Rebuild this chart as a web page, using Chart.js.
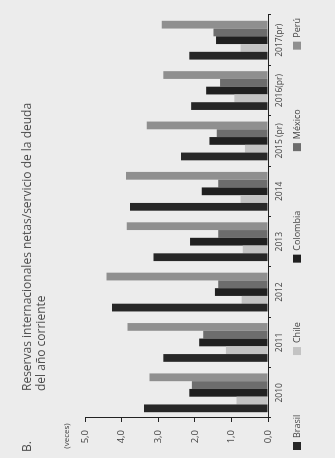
<!DOCTYPE html>
<html>
<head>
<meta charset="utf-8">
<script src="https://cdn.jsdelivr.net/npm/chart.js@4"></script>
<style>
  html, body { margin: 0; padding: 0; background: #ececec; overflow: hidden; }
  #wrap {
    position: absolute; left: 0; top: 0;
    width: 458px; height: 335px;
    transform-origin: 0 0;
    transform: translateY(458px) rotate(-90deg);
  }
</style>
</head>
<body>
<div id="wrap"><canvas id="myChart" width="458" height="335"></canvas></div>
<script>
// values (veces)
const categories = ['2010', '2011', '2012', '2013', '2014', '2015 (pr)', '2016(pr)', '2017(pr)'];
const seriesNames = ['Brasil', 'Chile', 'Colombia', 'México', 'Perú'];
const brasil   = [3.39, 2.86, 4.26, 3.13, 3.77, 2.38, 2.10, 2.15];
const chile    = [0.86, 1.15, 0.72, 0.69, 0.75, 0.63, 0.92, 0.75];
const colombia = [2.15, 1.88, 1.45, 2.13, 1.81, 1.60, 1.69, 1.42];
const mexico   = [2.08, 1.77, 1.36, 1.36, 1.36, 1.40, 1.31, 1.49];
const peru     = [3.24, 3.84, 4.41, 3.86, 3.88, 3.31, 2.86, 2.90];
const colors = ['#272727', '#c3c3c3', '#202020', '#6d6d6d', '#8f8f8f'];
const font = '"Open Sans", sans-serif';

const values = [brasil, chile, colombia, mexico, peru];

// title, unit and legend drawn on the canvas
const extras = {
    id: 'extras',
    afterDraw(chart) {
        const c = chart.ctx;
        c.save();
        c.fillStyle = '#4d4d4d';
        c.textBaseline = 'middle';
        c.textAlign = 'left';
        c.font = '12px ' + font;
        c.fillText('B.', 6, 28);
        c.fillText('Reservas internacionales netas/servicio de la deuda', 67, 28);
        c.fillText('del año corriente', 67, 42);
        c.font = '8px ' + font;
        c.fillStyle = '#444';
        c.textAlign = 'center';
        c.fillText('(veces)', 22, 67);

        // legend spread across the width
        c.font = '9px ' + font;
        c.textAlign = 'left';
        const widths = seriesNames.map(n => 8 + 4 + c.measureText(n).width);
        const total = widths.reduce((a, b) => a + b, 0);
        const start = 8, end = 440;
        const gap = (end - start - total) / (seriesNames.length - 1);
        let x = start;
        const y = 297;
        seriesNames.forEach((n, i) => {
            c.fillStyle = colors[i];
            c.fillRect(x, y - 4, 8, 8);
            c.fillStyle = '#444';
            c.fillText(n, x + 12, y + 0.5);
            x += widths[i] + gap;
        });
        c.restore();
    }
};

const ctx = document.getElementById('myChart');
new Chart(ctx, {
    type: 'bar',
    data: {
        labels: categories,
        datasets: seriesNames.map((name, i) => ({
            label: name,
            data: values[i],
            backgroundColor: colors[i],
            borderWidth: 0,
            barPercentage: 1.0,
            categoryPercentage: 0.77
        }))
    },
    options: {
        responsive: false,
        animation: false,
        layout: { padding: { top: 85, right: 15, bottom: 47, left: 0 } },
        plugins: {
            legend: { display: false },
            tooltip: { enabled: false }
        },
        scales: {
            x: {
                grid: { drawOnChartArea: false, tickLength: 3, color: '#222' },
                border: { color: '#222', width: 1 },
                ticks: {
                    color: '#444', padding: 3, maxRotation: 0, autoSkip: false,
                    font: { family: font, size: 8.5 }
                },
                afterFit(s) { s.height = 20; }
            },
            y: {
                min: 0, max: 5,
                grid: { drawOnChartArea: false, tickLength: 4, color: '#222' },
                border: { color: '#222', width: 1 },
                ticks: {
                    stepSize: 1, color: '#444', padding: 8,
                    font: { family: font, size: 9.5 },
                    callback: v => v.toFixed(1).replace('.', ',')
                },
                afterFit(s) { s.width = 40; }
            }
        }
    },
    plugins: [extras]
});
</script>
</body>
</html>
